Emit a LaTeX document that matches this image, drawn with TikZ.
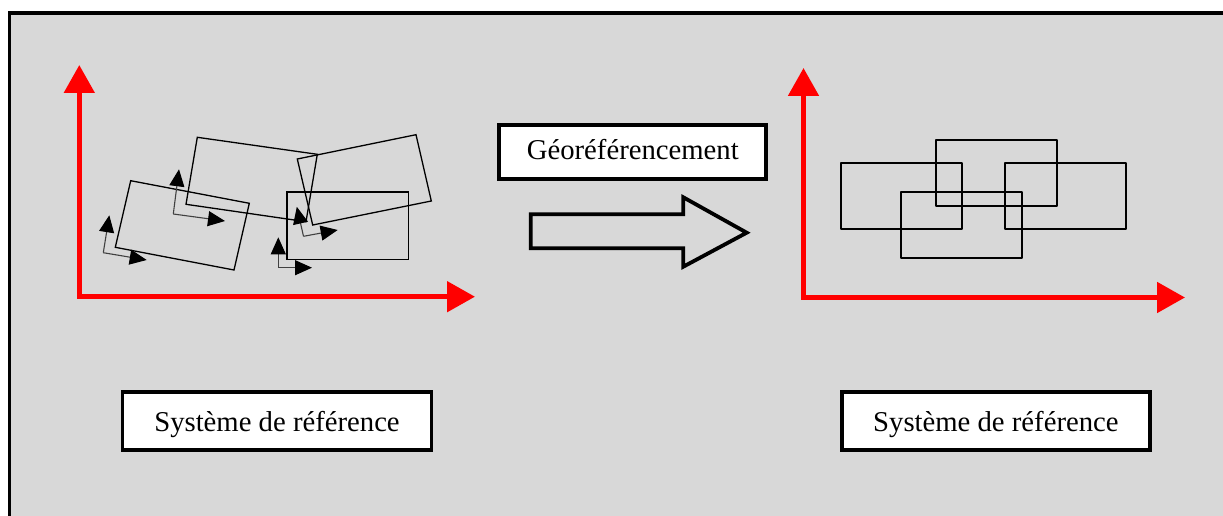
\documentclass[tikz,border=0pt]{standalone}
\usepackage{fontspec}
\setmainfont{Liberation Serif}
\usetikzlibrary{arrows.meta}
\definecolor{bg}{RGB}{216,216,216}
\definecolor{axred}{RGB}{255,0,0}
\begin{document}
\begin{tikzpicture}[x=1pt,y=-1pt,
  axis/.style={draw=axred,line width=5pt,-{Triangle[length=28pt,width=30pt]}},
  smallax/.style={draw=black!75,line width=1.1pt,-{Triangle[length=17pt,width=15pt,fill=black,color=black]}},
  tile/.style={draw=black,line width=1.3pt,line join=miter},
  flatile/.style={draw=black,line width=1.7pt,line join=round},
  labelbox/.style={draw=black,line width=3.8pt,fill=white,inner sep=0pt,
    font=\fontsize{28.7}{34}\selectfont,text depth=0pt}
]
\useasboundingbox (0,0) rectangle (1223,516);
\fill[bg] (9.5,13.3) rectangle (1223,516);
\draw[line width=3.8pt,line join=miter] (9.5,520) -- (9.5,13.3) -- (1230,13.3);

% left axes
\coordinate (O1) at (79.3,296.7);
\coordinate (Y1) at (79.3,65);
\coordinate (X1) at (475,296.7);
\draw[axis,line cap=rect] (O1) -- (Y1);
\draw[axis,line cap=rect] (O1) -- (X1);

% right axes
\coordinate (O2) at (803.5,297.5);
\coordinate (Y2) at (803.5,68);
\coordinate (X2) at (1185,297.5);
\draw[axis,line cap=rect] (O2) -- (Y2);
\draw[axis,line cap=rect] (O2) -- (X2);

% tilted tiles (before georeferencing)
\draw[tile] (130.7,180.7) -- (249.3,203.3) -- (234,270) -- (115.3,247.3) -- cycle;
\draw[tile] (197.3,137.3) -- (317.3,154.3) -- (306,221.7) -- (186,204.3) -- cycle;
\draw[tile] (297.3,159) -- (416,134.7) -- (431.3,201) -- (312.7,225) -- cycle;
\draw[tile] (287,192) rectangle (408.3,259.3);

% local frames
\coordinate (a0) at (103.3,252.7);
\coordinate (ay) at (109.3,215.3);
\coordinate (ax) at (146.7,260);
\draw[smallax] (a0) -- (ay);
\draw[smallax] (a0) -- (ax);
\coordinate (b0) at (173.3,214);
\coordinate (by) at (179,169.3);
\coordinate (bx) at (225,221);
\draw[smallax] (b0) -- (by);
\draw[smallax] (b0) -- (bx);
\coordinate (c0) at (303.5,236.3);
\coordinate (cy) at (296.8,206.8);
\coordinate (cx) at (337.7,230);
\draw[smallax] (c0) -- (cy);
\draw[smallax] (c0) -- (cx);
\coordinate (d0) at (278.3,267.7);
\coordinate (dy) at (278.3,237.3);
\coordinate (dx) at (312,267.7);
\draw[smallax] (d0) -- (dy);
\draw[smallax] (d0) -- (dx);

% georeferenced tiles
\draw[flatile] (840.7,162.7) rectangle (961.7,228.7);
\draw[flatile] (935.7,140.3) rectangle (1056.7,206.3);
\draw[flatile] (1005,162.7) rectangle (1125.7,228.7);
\draw[flatile] (901,192) rectangle (1022,258);

% label boxes
\node[labelbox,minimum width=267pt,minimum height=54pt,text height=15.6pt] (geo) at (632.8,152.2) {Géoréférencement};
\node[labelbox,minimum width=309pt,minimum height=58pt,text height=21.7pt] (sysL) at (277,420.85) {Système de référence};
\node[labelbox,minimum width=308pt,minimum height=58pt,text height=21.7pt] (sysR) at (995.9,420.85) {Système de référence};

% block arrow
\draw[line width=3.8pt,line join=miter] (530.7,214.3) -- (683.3,214.3) -- (683.3,197.3) -- (746.7,232.7) -- (683.3,266.7) -- (683.3,248.3) -- (530.7,248.3) -- cycle;
\end{tikzpicture}
\end{document}
